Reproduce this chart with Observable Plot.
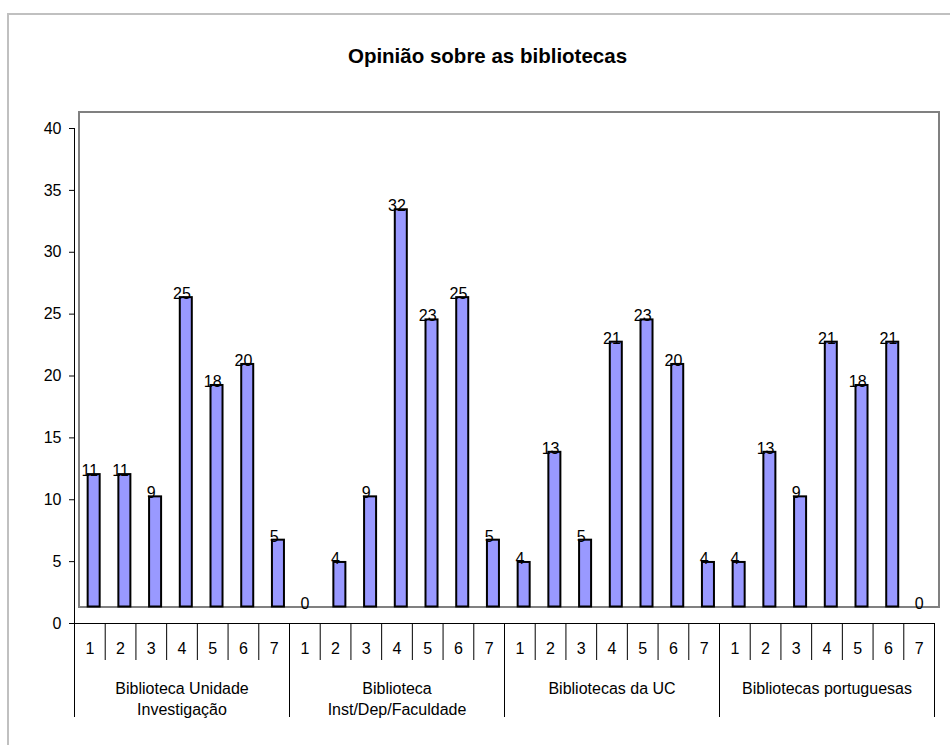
<!DOCTYPE html>
<html><head><meta charset="utf-8">
<script src="https://cdn.jsdelivr.net/npm/d3@7"></script>
<script src="https://cdn.jsdelivr.net/npm/@observablehq/plot@0.6"></script>
<style>
body{margin:0;background:#fff;overflow:hidden}
#wrap{position:relative;width:950px;height:745px;overflow:hidden;background:#fff}
#border{position:absolute;left:7px;top:13px;width:1000px;height:800px;border:2px solid #c0c0c0;box-sizing:border-box}
#chart{position:absolute;left:0;top:0}
#title{position:absolute;left:0;top:44px;width:975px;text-align:center;font:bold 20.5px/24px Arial,'Liberation Sans',sans-serif;color:#000;white-space:nowrap}
</style></head><body>
<div id="wrap"><div id="border"></div><div id="chart"></div><div id="title"></div></div>
<script>
const title = "Opinião sobre as bibliotecas";
const groups = ["Biblioteca Unidade\nInvestigação", "Biblioteca\nInst/Dep/Faculdade", "Bibliotecas da UC", "Bibliotecas portuguesas"];
const levels = ["1", "2", "3", "4", "5", "6", "7"];
const unidadeInvestigacao = [10.7, 10.7, 8.9, 25.0, 17.9, 19.6, 5.4];
const instDepFaculdade = [0, 3.6, 8.9, 32.1, 23.2, 25.0, 5.4];
const bibliotecasUC = [3.6, 12.5, 5.4, 21.4, 23.2, 19.6, 3.6];
const bibliotecasPortuguesas = [3.6, 12.5, 8.9, 21.4, 17.9, 21.4, 0];
const yTicks = [0, 5, 10, 15, 20, 25, 30, 35, 40];

const series = [unidadeInvestigacao, instDepFaculdade, bibliotecasUC, bibliotecasPortuguesas];
const n = levels.length;
const rows = groups.flatMap((g, gi) => levels.map((l, li) => ({group: g, level: l, value: series[gi][li], i: gi * n + li})));
const groupRows = groups.map((g, gi) => ({name: g, start: gi * n, end: (gi + 1) * n}));
const allEdges = d3.range(0, groups.length * n + 1);
const groupEdges = allEdges.filter(e => e % n === 0);
const minorEdges = allEdges.filter(e => e % n !== 0);

const shiftX = 4.3, shiftY = -16.5;

document.getElementById("title").textContent = title;

const chart = Plot.plot({
  width: 950,
  height: 745,
  marginLeft: 74,
  marginRight: 16,
  marginTop: 128,
  marginBottom: 122,
  style: {fontFamily: "Arial, 'Liberation Sans', sans-serif", fontSize: "16px", background: "transparent", color: "#000"},
  x: {domain: [0, groups.length * n], axis: null},
  y: {domain: [0, 40], ticks: yTicks, tickSize: 5, tickPadding: 8, label: null, tickFormat: d => String(d)},
  marks: [
    Plot.frame({stroke: "#808080", strokeWidth: 2, dx: shiftX + 0.2, dy: shiftY}),
    Plot.rect(rows, {x1: "i", x2: d => d.i + 1, y1: 0, y2: "value", insetLeft: 9.35, insetRight: 9.35,
      fill: "#9999ff", stroke: "#000", strokeWidth: 2, dx: shiftX, dy: shiftY}),
    Plot.text(rows, {x: d => d.i + 0.5, y: "value", text: d => String(Math.round(d.value)),
      lineAnchor: "bottom", dy: shiftY + 1.5, fontSize: 16, fill: "#000"}),
    Plot.ruleX([0], {stroke: "#000", strokeWidth: 1}),
    Plot.ruleY([0], {stroke: "#000", strokeWidth: 1}),
    Plot.ruleX(minorEdges, {x: d => d, y1: 0, y2: 0, insetBottom: -37, stroke: "#000", strokeWidth: 1}),
    Plot.ruleX(groupEdges, {x: d => d, y1: 0, y2: 0, insetBottom: -94, stroke: "#000", strokeWidth: 1}),
    Plot.text(rows, {x: d => d.i + 0.5, y: 0, text: "level", lineAnchor: "middle", dy: 25.3, fontSize: 16, fill: "#000"}),
    Plot.text(groupRows, {x: d => (d.start + d.end) / 2, y: 0, text: "name", lineAnchor: "top", lineHeight: 1.36, dy: 54.6, fontSize: 16, fill: "#000"})
  ]
});
document.getElementById("chart").appendChild(chart);
</script>
</body></html>
